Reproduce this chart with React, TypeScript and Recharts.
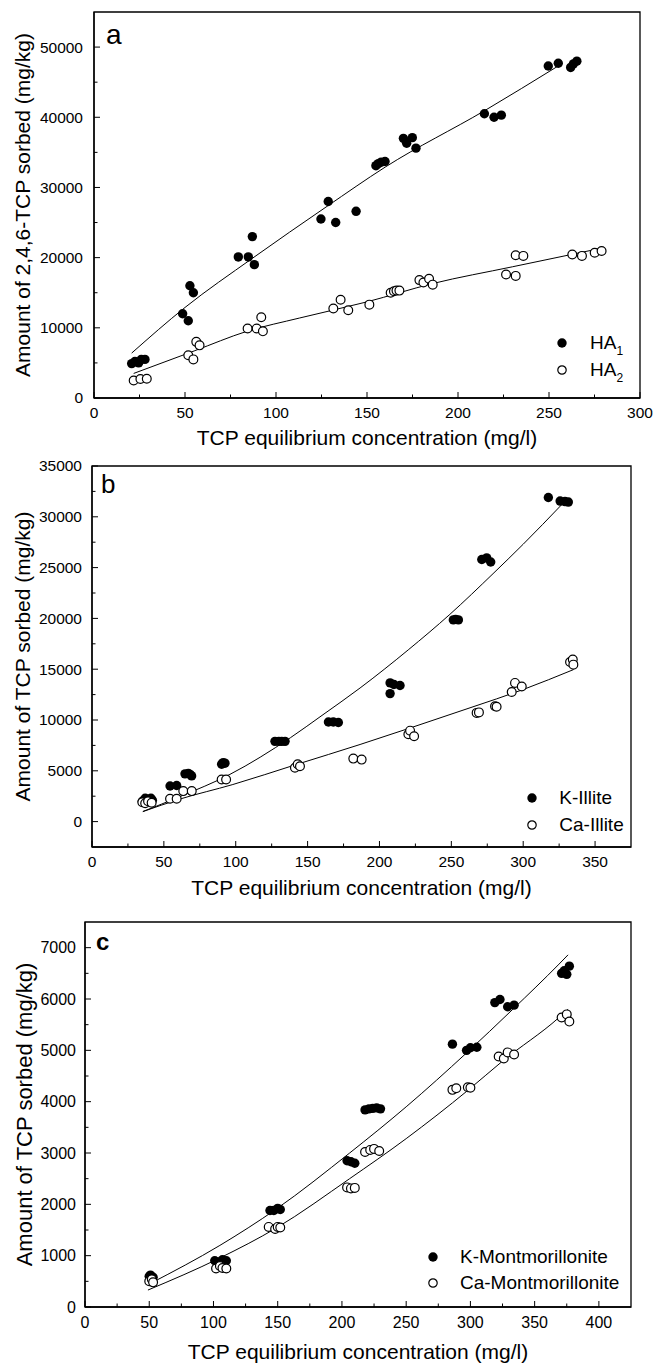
import React from 'react';
import { ScatterChart, Scatter, XAxis, YAxis, ReferenceArea } from 'recharts';

type Pt = { x: number; y: number };
const pts = (rows: number[][]): Pt[] => rows.map(([x, y]) => ({ x, y }));

// ---- panel a : humic acids ----
const ha1 = pts([
  [20.7, 4900], [22.5, 5200], [24.5, 5000], [26, 5500], [28, 5500],
  [48.7, 12000], [51.8, 11000], [52.7, 16000], [54.6, 15000],
  [79.3, 20100], [84.8, 20100], [87, 23000], [88.1, 19000],
  [124.7, 25500], [128.7, 28000], [132.8, 25000], [144, 26600],
  [154.9, 33100], [156.2, 33400], [157.8, 33600], [159.9, 33700],
  [170, 37000], [171.8, 36300], [174.9, 37100], [176.9, 35600],
  [214.5, 40500], [219.8, 40000], [223.8, 40300],
  [249.6, 47300], [255.1, 47700], [261.9, 47100], [263.4, 47600], [265.3, 48000],
]);
const ha2 = pts([
  [21.8, 2500], [25.5, 2700], [29, 2750],
  [51.8, 6100], [54.6, 5500], [56.2, 8000], [58, 7500],
  [84.4, 9900], [89.4, 9900], [91.9, 11500], [92.8, 9500],
  [131.5, 12750], [135.5, 14000], [139.7, 12500], [151.3, 13300],
  [163, 15000], [164.8, 15200], [166.2, 15300], [167.8, 15300],
  [178.8, 16800], [181, 16450], [184.1, 17000], [186.1, 16150],
  [226.4, 17600], [231.7, 17400], [231.7, 20350], [235.9, 20250],
  [262.8, 20450], [268.1, 20250], [275.1, 20700], [278.9, 20950],
]);
const ha1Fit = pts([[20.7, 6400], [50, 12900], [87, 19900], [128, 27300], [160, 32900], [215, 41000], [255, 47300]]);
const ha2Fit = pts([[21.8, 3500], [55, 6700], [84, 9500], [113, 11400], [150, 13700], [186, 16300], [230, 18700], [278, 21300]]);

// ---- panel b : illite ----
const kIllite = pts([
  [35, 2000], [37, 2300], [39, 2200], [41, 2300], [42, 2100],
  [54.3, 3500], [58.9, 3550],
  [64.7, 4700], [67, 4750], [68.2, 4650], [69.3, 4500],
  [90.2, 5650], [91.3, 5800], [92.5, 5750],
  [127.3, 7900], [130, 7900], [132, 7900], [134.3, 7900],
  [164.5, 9800], [167.9, 9800], [171.4, 9750],
  [207.4, 13650], [207.4, 12600], [210, 13500], [214.3, 13400],
  [251.4, 19850], [253, 19900], [254.9, 19850],
  [271.2, 25800], [274.6, 25950], [277.4, 25550],
  [317.5, 31900], [325.7, 31550], [329.1, 31500], [331.4, 31450],
]);
const caIllite = pts([
  [35, 1900], [37, 1800], [39, 2000], [41.5, 1850],
  [54.3, 2250], [58.9, 2250],
  [63.5, 3000], [69.4, 3000],
  [90.2, 4150], [93.3, 4150],
  [141.2, 5300], [143.1, 5650], [144.7, 5450],
  [181.8, 6200], [187.6, 6100],
  [220.1, 8600], [221.3, 8950], [224.1, 8400],
  [267.6, 10700], [269.2, 10750],
  [280.4, 11350], [281.5, 11300],
  [292, 12750], [294.3, 13650], [299, 13300],
  [332.6, 15700], [334.5, 15950], [334.9, 15450],
]);
const kIlliteFit = pts([[35.5, 1000], [61, 2450], [96, 4650], [138, 8250], [160, 10450], [186.5, 13150], [220, 16900], [249, 20400], [279, 24400], [300, 27300], [326.8, 31200]]);
const caIlliteFit = pts([[35.3, 980], [61, 2210], [98, 3650], [142.4, 5630], [186.5, 7590], [221, 9200], [263, 11200], [300, 13000], [335, 14960]]);

// ---- panel c : montmorillonite ----
const kMont = pts([
  [50, 600], [51, 620], [52, 560], [53, 580],
  [101, 900], [104, 880], [107, 920], [110, 900],
  [144, 1880], [147, 1880], [150, 1920], [152, 1900],
  [204, 2850], [207, 2830], [210, 2800],
  [218, 3840], [221, 3860], [224, 3870], [227, 3880], [230, 3860],
  [286, 5120], [297, 5000], [300, 5050], [305, 5060],
  [319, 5930], [323, 5990], [329, 5850], [334, 5880],
  [371, 6500], [373, 6550], [375, 6480], [377, 6640],
]);
const caMont = pts([
  [50, 500], [52, 540], [53, 480],
  [102, 750], [105, 800], [107, 760], [110, 750],
  [143, 1560], [148, 1520], [150, 1560], [152, 1550],
  [204, 2330], [207, 2310], [210, 2320],
  [218, 3020], [222, 3060], [225, 3080], [229, 3040],
  [286, 4230], [289, 4260], [298, 4280], [300, 4270],
  [322, 4880], [326, 4840], [329, 4960], [334, 4920],
  [371, 5640], [375, 5700], [377, 5560],
]);
const kMontFit = pts([[51, 460], [105, 1200], [149, 1910], [206, 3000], [250, 3900], [297, 4950], [333, 5800], [369, 6680], [376, 6860]]);
const caMontFit = pts([[49, 330], [105, 955], [149, 1540], [206, 2500], [250, 3280], [298, 4220], [325, 4790], [369, 5640], [376, 5800]]);

// ---- ticks ----
const range = (a: number, b: number, s: number) => {
  const out: number[] = [];
  for (let v = a; v <= b; v += s) out.push(v);
  return out;
};
const xTicksA = range(0, 300, 25);
const yTicksA = range(0, 50000, 5000);
const xTicksB = range(0, 350, 25);
const yTicksB = range(0, 35000, 2500);
const xTicksC = range(0, 400, 25);
const yTicksC = range(0, 7000, 500);

const xTitle = 'TCP equilibrium concentration (mg/l)';
const legendA: React.ReactNode[] = [
  <>HA<span style={{ fontSize: 12, position: 'relative', top: 6 }}>1</span></>,
  <>HA<span style={{ fontSize: 12, position: 'relative', top: 6 }}>2</span></>,
];
const legendB = ['K-Illite', 'Ca-Illite'];
const legendC = ['K-Montmorillonite', 'Ca-Montmorillonite'];

const FONT = '"Liberation Sans", Arial, Helvetica, sans-serif';

const xTick = (step: number, size: number) => (props: any) => {
  const { x, y, payload } = props;
  const v = payload.value;
  const major = v % step === 0;
  return (
    <g>
      <line x1={x} x2={x} y1={y} y2={y - (major ? 6 : 3.5)} stroke="#000" strokeWidth={1} />
      {major && (
        <text x={x} y={y + 15} dy="0.35em" textAnchor="middle" fontSize={size} fill="#000">{v}</text>
      )}
    </g>
  );
};

const yTick = (step: number, size: number, gap: number) => (props: any) => {
  const { x, y, payload } = props;
  const v = payload.value;
  const major = v % step === 0;
  return (
    <g>
      <line x1={x} x2={x + (major ? 6 : 3.5)} y1={y} y2={y} stroke="#000" strokeWidth={1} />
      {major && (
        <text x={x - gap} y={y} dy="0.35em" textAnchor="end" fontSize={size} fill="#000">{v}</text>
      )}
    </g>
  );
};

const filledDot = (p: any) => <circle cx={p.cx} cy={p.cy} r={4.7} fill="#000" />;
const openDot = (p: any) => <circle cx={p.cx} cy={p.cy} r={4.4} fill="#fff" stroke="#000" strokeWidth={1.2} />;
const noDot = () => <g />;

interface PanelProps {
  top: number;
  height: number;
  yAxisWidth: number;
  marginTop: number;
  marginRight: number;
  xAxisHeight: number;
  xDomain: [number, number];
  yDomain: [number, number];
  xTicks: number[];
  yTicks: number[];
  xStep: number;
  yStep: number;
  tickFont: number;
  tickGap: number;
  yTitle: string;
  yTitleSize: number;
  yTitleX: number;
  letter: string;
  letterSize: number;
  letterOffset: number;
  letterBold?: boolean;
  filled: Pt[];
  open: Pt[];
  fitFilled: Pt[];
  fitOpen: Pt[];
  names: React.ReactNode[];
  legendX: number;
  legendY: number;
  legendGap: number;
  legendTextX: number;
}

const Panel: React.FC<PanelProps> = (p) => (
  <div style={{ position: 'absolute', left: 0, top: p.top, width: 655, height: p.height }}>
    <ScatterChart
      width={655}
      height={p.height}
      margin={{ top: p.marginTop, right: p.marginRight, left: 0, bottom: 0 }}
    >
      <XAxis
        type="number"
        dataKey="x"
        domain={p.xDomain}
        ticks={p.xTicks}
        interval={0}
        allowDataOverflow
        height={p.xAxisHeight}
        tickSize={0}
        tickMargin={0}
        tickLine={false}
        axisLine={{ stroke: '#000', strokeWidth: 1.3 }}
        tick={xTick(p.xStep, p.tickFont)}
        label={{ value: xTitle, position: 'insideBottom', offset: 5, fontSize: 21, fill: '#000' }}
      />
      <YAxis
        type="number"
        dataKey="y"
        domain={p.yDomain}
        ticks={p.yTicks}
        interval={0}
        allowDataOverflow
        width={p.yAxisWidth}
        tickSize={0}
        tickMargin={0}
        tickLine={false}
        axisLine={{ stroke: '#000', strokeWidth: 1.3 }}
        tick={yTick(p.yStep, p.tickFont, p.tickGap)}
        label={{
          value: p.yTitle,
          angle: -90,
          position: 'insideLeft',
          offset: p.yTitleX,
          fontSize: p.yTitleSize,
          fill: '#000',
          style: { textAnchor: 'middle' },
        }}
      />
      <ReferenceArea
        x1={p.xDomain[0]}
        x2={p.xDomain[1]}
        y1={p.yDomain[0]}
        y2={p.yDomain[1]}
        fill="none"
        stroke="#000"
        strokeWidth={1.3}
        ifOverflow="visible"
        label={{
          value: p.letter,
          position: 'insideTopLeft',
          offset: p.letterOffset,
          fontSize: p.letterSize,
          fontWeight: p.letterBold ? 'bold' : 'normal',
          fill: '#000',
        }}
      />
      <Scatter data={p.fitFilled} line={{ stroke: '#000', strokeWidth: 1 }} lineJointType="monotoneX" shape={noDot} legendType="none" isAnimationActive={false} />
      <Scatter data={p.fitOpen} line={{ stroke: '#000', strokeWidth: 1 }} lineJointType="monotoneX" shape={noDot} legendType="none" isAnimationActive={false} />
      <Scatter data={p.filled} shape={filledDot} isAnimationActive={false} />
      <Scatter data={p.open} shape={openDot} isAnimationActive={false} />
    </ScatterChart>
    {p.names.map((n, i) => (
      <div
        key={i}
        style={{
          position: 'absolute',
          left: p.legendX - 6,
          top: p.legendY + i * p.legendGap - 12,
          height: 24,
          display: 'flex',
          alignItems: 'center',
          fontSize: 19,
          whiteSpace: 'nowrap',
          color: '#000',
        }}
      >
        <svg width={12} height={12} style={{ display: 'block' }}>
          {i === 0 ? (
            <circle cx={6} cy={6} r={4.7} fill="#000" />
          ) : (
            <circle cx={6} cy={6} r={4.2} fill="#fff" stroke="#000" strokeWidth={1.2} />
          )}
        </svg>
        <span style={{ marginLeft: p.legendTextX - p.legendX - 6 }}>{n}</span>
      </div>
    ))}
  </div>
);

export default function App() {
  return (
    <div style={{ position: 'absolute', left: 0, top: 0, width: 655, height: 1364, background: '#fff', fontFamily: FONT }}>
      <Panel
        top={0}
        height={450}
        yAxisWidth={94}
        marginTop={12}
        marginRight={15}
        xAxisHeight={52}
        xDomain={[0, 300]}
        yDomain={[0, 55000]}
        xTicks={xTicksA}
        yTicks={yTicksA}
        xStep={50}
        yStep={10000}
        tickFont={15.5}
        tickGap={11}
        yTitle="Amount of 2,4,6-TCP sorbed (mg/kg)"
        yTitleSize={21}
        yTitleX={23}
        letter="a"
        letterSize={28}
        letterOffset={12}
        filled={ha1}
        open={ha2}
        fitFilled={ha1Fit}
        fitOpen={ha2Fit}
        names={legendA}
        legendX={561.7}
        legendY={343}
        legendGap={27}
        legendTextX={590}
      />
      <Panel
        top={450}
        height={450}
        yAxisWidth={92}
        marginTop={16}
        marginRight={24}
        xAxisHeight={53}
        xDomain={[0, 375]}
        yDomain={[-2500, 35000]}
        xTicks={xTicksB}
        yTicks={yTicksB}
        xStep={50}
        yStep={5000}
        tickFont={15.5}
        tickGap={10}
        yTitle="Amount of TCP sorbed (mg/kg)"
        yTitleSize={21}
        yTitleX={23}
        letter="b"
        letterSize={26}
        letterOffset={9}
        filled={kIllite}
        open={caIllite}
        fitFilled={kIlliteFit}
        fitOpen={caIlliteFit}
        names={legendB}
        legendX={532.3}
        legendY={348.3}
        legendGap={26.7}
        legendTextX={559.3}
      />
      <Panel
        top={900}
        height={464}
        yAxisWidth={85}
        marginTop={22}
        marginRight={24}
        xAxisHeight={57}
        xDomain={[0, 425]}
        yDomain={[0, 7500]}
        xTicks={xTicksC}
        yTicks={yTicksC}
        xStep={50}
        yStep={1000}
        tickFont={16}
        tickGap={9}
        yTitle="Amount of TCP sorbed (mg/kg)"
        yTitleSize={22}
        yTitleX={24}
        letter="c"
        letterSize={24}
        letterOffset={11}
        letterBold
        filled={kMont}
        open={caMont}
        fitFilled={kMontFit}
        fitOpen={caMontFit}
        names={legendC}
        legendX={432.7}
        legendY={356.7}
        legendGap={26.7}
        legendTextX={460}
      />
    </div>
  );
}
